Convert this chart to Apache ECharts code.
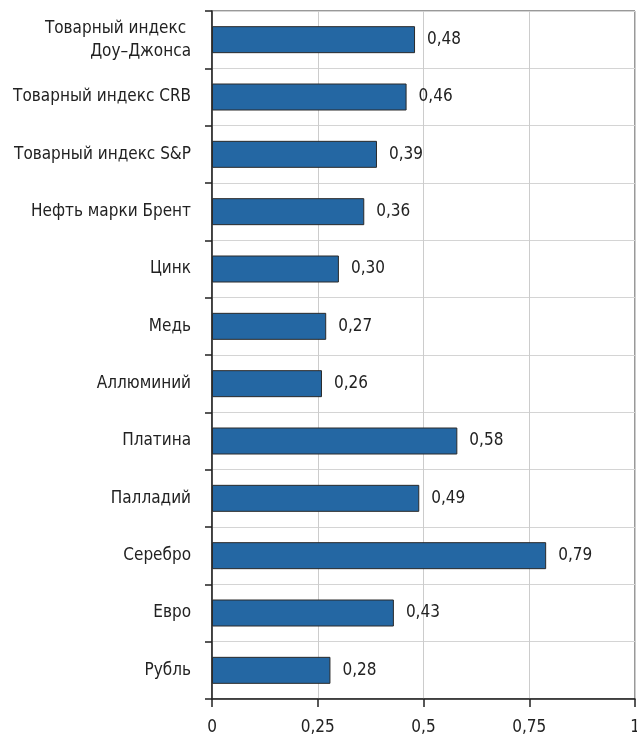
<!DOCTYPE html>
<html>
<head>
<meta charset="utf-8">
<script src="https://cdn.jsdelivr.net/npm/echarts@6/dist/echarts.min.js"></script>
<style>
  html, body { margin: 0; padding: 0; background: #fff; }
  #chart { width: 637px; height: 737px; }
</style>
</head>
<body>
<div id="chart"></div>
<script>
// Asset names, listed top to bottom
const categories = [
  'Товарный индекс \nДоу–Джонса',
  'Товарный индекс CRB',
  'Товарный индекс S&P',
  'Нефть марки Брент',
  'Цинк',
  'Медь',
  'Аллюминий',
  'Платина',
  'Палладий',
  'Серебро',
  'Евро',
  'Рубль'
];
// Correlation coefficient for each asset
const values = [0.48, 0.46, 0.39, 0.36, 0.30, 0.27, 0.26, 0.58, 0.49, 0.79, 0.43, 0.28];
// Value axis range and step
const axisMin = 0;
const axisMax = 1;
const axisStep = 0.25;

const fmt = v => String(v).replace('.', ',');
const fmt2 = v => v.toFixed(2).replace('.', ',');
const FONT = '"DejaVu Sans Condensed", "Liberation Sans Narrow", "Liberation Sans", sans-serif';

const chart = echarts.init(document.getElementById('chart'), null, { renderer: 'canvas' });
chart.setOption({
  animation: false,
  backgroundColor: '#ffffff',
  grid: {
    left: 212, right: 2, top: 11, bottom: 38,
    show: true, borderColor: '#333333', borderWidth: 1,
    containLabel: false,
    outerBoundsMode: 'none'
  },
  xAxis: {
    type: 'value',
    min: axisMin, max: axisMax, interval: axisStep,
    axisLine: { show: true, lineStyle: { color: '#222222', width: 1.5 } },
    axisTick: { show: true, length: 8, lineStyle: { color: '#222222', width: 1.5 } },
    axisLabel: {
      formatter: fmt, color: '#222222', fontFamily: FONT, fontSize: 17, margin: 20
    },
    splitLine: { show: true, lineStyle: { color: '#cccccc', width: 1 } }
  },
  yAxis: {
    type: 'category',
    data: categories,
    inverse: true,
    axisLine: { show: true, lineStyle: { color: '#222222', width: 1.5 } },
    axisTick: { show: true, length: 7, lineStyle: { color: '#222222', width: 1.5 } },
    axisLabel: {
      color: '#222222', fontFamily: FONT, fontSize: 17, margin: 21, lineHeight: 23
    },
    splitLine: { show: true, lineStyle: { color: '#d4d4d4', width: 1 } }
  },
  series: [{
    type: 'bar',
    data: values,
    barWidth: 27,
    itemStyle: { color: '#2467a3', borderColor: '#2a2a2a', borderWidth: 1 },
    label: {
      show: true, position: 'right', distance: 12,
      formatter: p => fmt2(p.value),
      color: '#222222', fontFamily: FONT, fontSize: 17
    }
  }]
});
</script>
</body>
</html>
